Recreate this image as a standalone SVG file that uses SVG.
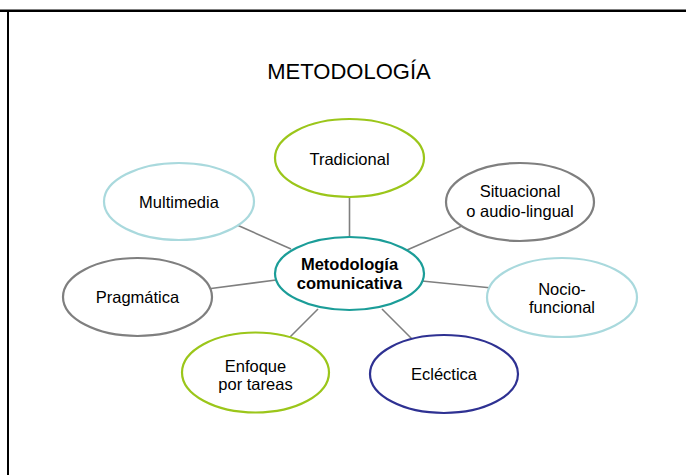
<svg xmlns="http://www.w3.org/2000/svg" width="686" height="475" viewBox="0 0 686 475">
<style>
.n{fill:#fff;stroke-width:2.2}
.t{font-family:"Liberation Sans",Arial,sans-serif;font-size:16.5px;fill:#000;text-anchor:middle}
.b{font-weight:bold}
.c line{stroke:#7f7f7f;stroke-width:1.6}
.g{stroke:#9bc61a}.lb{stroke:#a9d9dd}.gr{stroke:#7f7f7f}.nv{stroke:#2e3192}.tl{stroke:#1b9d98}
</style>
<rect x="0" y="0" width="686" height="475" fill="#fff"/>
<g id="border">
<rect x="0" y="9.5" width="686" height="2.5" fill="#000"/>
<rect x="7" y="10" width="2" height="465" fill="#000"/>
</g>
<text class="t" x="349" y="78.5" style="font-size:22px">METODOLOGÍA</text>
<g class="c" id="connectors">
<line x1="349.5" y1="197" x2="349.5" y2="237"/>
<line x1="237" y1="225" x2="291" y2="249"/>
<line x1="211" y1="288.5" x2="276" y2="280"/>
<line x1="462" y1="226" x2="407" y2="250"/>
<line x1="492" y1="288" x2="422" y2="281"/>
<line x1="288" y1="339" x2="318" y2="309"/>
<line x1="382" y1="309" x2="412" y2="339"/>
</g>
<g id="tradicional"><ellipse class="n g" cx="349.5" cy="158" rx="74.5" ry="39"/><text class="t" x="349.5" y="165">Tradicional</text></g>
<g id="multimedia"><ellipse class="n lb" cx="179" cy="201.5" rx="75" ry="38.5"/><text class="t" x="179" y="208">Multimedia</text></g>
<g id="situacional"><ellipse class="n gr" cx="520" cy="202" rx="74" ry="39"/><text class="t" x="520" y="197">Situacional</text><text class="t" x="520" y="217">o audio-lingual</text></g>
<g id="pragmatica"><ellipse class="n gr" cx="137.5" cy="297" rx="74.5" ry="39"/><text class="t" x="137.5" y="303">Pragmática</text></g>
<g id="nocio"><ellipse class="n lb" cx="562" cy="297.5" rx="75" ry="39.5"/><text class="t" x="562" y="295">Nocio-</text><text class="t" x="562" y="313">funcional</text></g>
<g id="enfoque"><ellipse class="n g" cx="255.5" cy="372.5" rx="73.5" ry="40"/><text class="t" x="255.5" y="372">Enfoque</text><text class="t" x="255.5" y="390">por tareas</text></g>
<g id="eclectica"><ellipse class="n nv" cx="444" cy="374" rx="74" ry="39"/><text class="t" x="444" y="380">Ecléctica</text></g>
<g id="centro"><ellipse class="n tl" cx="349.5" cy="273.5" rx="74.5" ry="36.5"/><text class="t b" x="349.5" y="270">Metodología</text><text class="t b" x="349.5" y="288.5">comunicativa</text></g>
</svg>
